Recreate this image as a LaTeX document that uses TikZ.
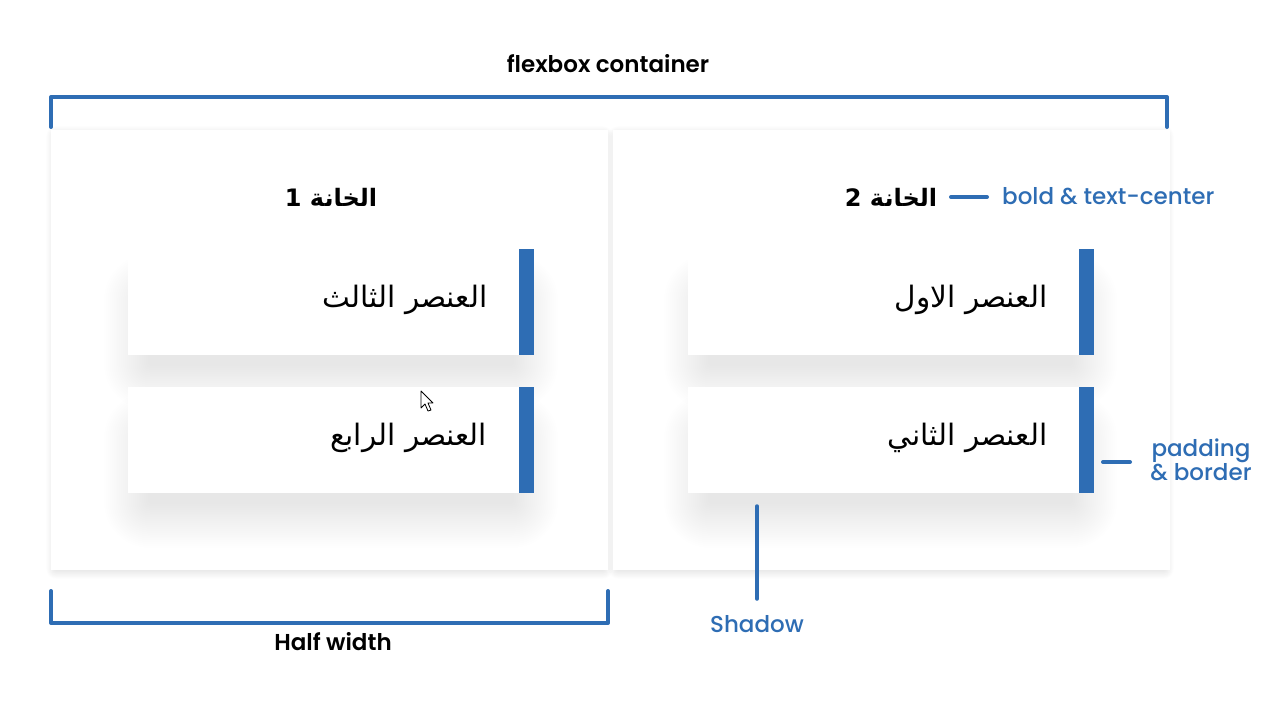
\documentclass[tikz,border=0pt]{standalone}
\usepackage{fontspec}
\setmainfont{Poppins}
\newfontfamily\popsb{Poppins SemiBold}
\newfontfamily\popmd{Poppins Medium}
\newfontfamily\arabicfont[Script=Arabic]{DejaVu Sans}
\TeXXeTstate=1
\definecolor{blu}{RGB}{46,109,180}
\newcommand\softshadow[6]{%
  \foreach \k in {1,...,24}{%
    \pgfmathsetmacro\ee{#5*\k/24}%
    \fill[black, opacity=#6/24, rounded corners=\ee pt] (#1-\ee,#2-\ee) rectangle (#3+\ee,#4+\ee);
  }}
\tikzset{
  panel/.style={draw=none, fill=white, anchor=north west, minimum width=557pt, minimum height=440pt, inner sep=0pt},
  item/.style={draw=none, fill=white, anchor=north west, minimum width=406pt, minimum height=106pt, inner sep=0pt},
  itemtext/.style={anchor=east, font=\arabicfont\fontsize{29.5}{32}\selectfont, inner sep=0pt},
  head/.style={font=\arabicfont\bfseries\fontsize{24}{28}\selectfont, inner sep=0pt},
  bracket/.style={draw=blu, line width=4pt, line cap=round, line join=round},
  annot/.style={draw=blu, line width=4pt, line cap=round},
  bluelabel/.style={text=blu, font=\popmd\fontsize{23}{25}\selectfont, inner sep=0pt},
  blacklabel/.style={text=black, font=\popsb\fontsize{23}{25}\selectfont, inner sep=0pt},
  borderbar/.style={fill=blu}
}
\begin{document}
\begin{tikzpicture}[x=1pt,y=-1pt]
\useasboundingbox[fill=white] (0,0) rectangle (1280,720);

% panel shadows
\softshadow{56}{136}{603}{569}{10}{0.08}
\softshadow{618}{136}{1164}{569}{10}{0.08}
% panels
\node[panel] (p1) at (51,130) {};
\node[panel] (p2) at (613,130) {};

% headers
\node[head] (h1) at (331,197) {\beginR الخانة 1\endR};
\node[head] (h2) at (891,197) {\beginR الخانة 2\endR};

% item shadows
\softshadow{150}{300}{512}{364}{46}{0.13}
\softshadow{150}{438}{512}{502}{46}{0.13}
\softshadow{710}{300}{1071}{364}{46}{0.13}
\softshadow{710}{438}{1071}{502}{46}{0.13}

% items
\node[item] (i3) at (128,249) {};
\node[item] (i4) at (128,387) {};
\node[item] (i1) at (688,249) {};
\node[item] (i2) at (688,387) {};
\foreach \n in {i1,i2,i3,i4}{
  \fill[borderbar] ([xshift=-15pt]\n.north east) rectangle (\n.south east);
}
\node[itemtext] (t3) at ([xshift=-47pt,yshift=2pt]i3.east) {\beginR العنصر الثالث\endR};
\node[itemtext] (t4) at ([xshift=-47pt,yshift=2pt]i4.east) {\beginR العنصر الرابع\endR};
\node[itemtext] (t1) at ([xshift=-47pt,yshift=2pt]i1.east) {\beginR العنصر الاول\endR};
\node[itemtext] (t2) at ([xshift=-47pt,yshift=2pt]i2.east) {\beginR العنصر الثاني\endR};

% top bracket
\coordinate (tb1) at (51,127);
\coordinate (tb2) at (51,97);
\coordinate (tb3) at (1167,97);
\coordinate (tb4) at (1167,127);
\draw[bracket] (tb1) -- (tb2) -- (tb3) -- (tb4);
\node[blacklabel] (fc) at (608,64) {flexbox container};

% bottom bracket
\coordinate (bb1) at (51,591);
\coordinate (bb2) at (51,623);
\coordinate (bb3) at (608,623);
\coordinate (bb4) at (608,591);
\draw[bracket] (bb1) -- (bb2) -- (bb3) -- (bb4);
\node[blacklabel] (hw) at (333,642) {Half width};

% bold & text-center
\node[bluelabel, anchor=west] (bt) at (1002,196) {bold \& text-center};
\coordinate (a1) at (951,197);
\coordinate (a1e) at (987,197);
\draw[annot] (a1) -- (a1e);

% padding & border
\node[bluelabel, align=center, font=\popmd\fontsize{23}{24}\selectfont] (pb) at (1201,460) {padding\\\& border};
\coordinate (a2s) at (1103,462);
\coordinate (a2) at (1130,462);
\draw[annot] (a2s) -- (a2);

% shadow
\node[bluelabel] (sh) at (757,624) {Shadow};
\coordinate (a3) at (757,506);
\coordinate (a3e) at (757,599);
\draw[annot, line width=3.5pt] (a3) -- (a3e);

% mouse cursor
\draw[black, line width=0.8pt, fill=white, line join=round]
  (421,391) -- (421,408) -- (425,404) -- (428,411) -- (431,410) -- (428,403) -- (433,403) -- cycle;
\end{tikzpicture}
\end{document}
